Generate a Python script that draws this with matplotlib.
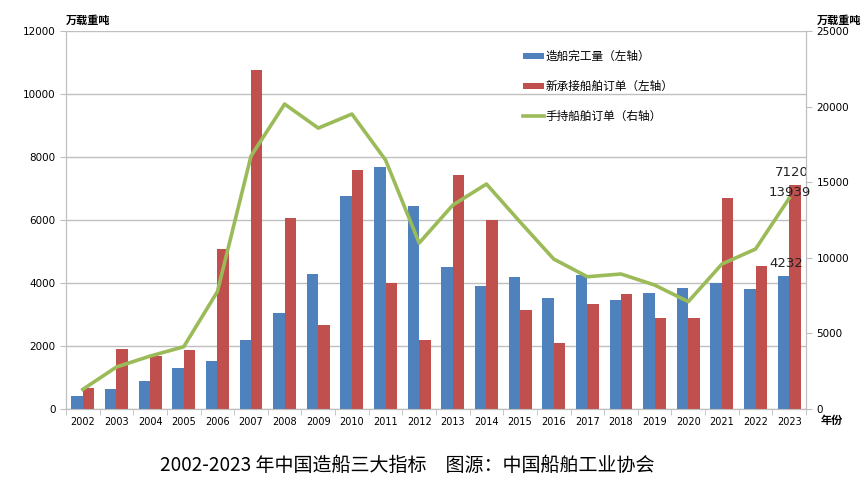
import matplotlib
matplotlib.use("Agg")
import matplotlib.pyplot as plt
import numpy as np

plt.rcParams['font.family'] = ['Noto Sans CJK SC', 'DejaVu Sans']

years = [str(y) for y in range(2002, 2024)]
completed = [420, 650, 880, 1310, 1510, 2180, 3050, 4300, 6760, 7680, 6440,
             4500, 3900, 4180, 3510, 4270, 3450, 3680, 3830, 3990, 3800, 4232]
new_orders = [680, 1900, 1680, 1870, 5080, 10750, 6060, 2660, 7590, 3990, 2180,
              7430, 6000, 3130, 2100, 3350, 3660, 2900, 2880, 6700, 4550, 7120]
holding = [1300, 2780, 3500, 4120, 7760, 16730, 20170, 18580, 19510, 16470, 10980,
           13490, 14880, 12370, 9920, 8750, 8930, 8200, 7100, 9590, 10580, 13939]

blue = '#4F81BD'
red = '#C0504D'
green = '#9BBB59'
grid_c = '#BFBFBF'

fig = plt.figure(figsize=(8.65, 4.94), dpi=100)
ax = fig.add_axes([0.0763, 0.172, 0.8555, 0.7652])
ax2 = ax.twinx()

x = np.arange(len(years))
w = 0.34
ax.bar(x - w / 2, completed, w, color=blue, label='造船完工量（左轴）', zorder=3)
ax.bar(x + w / 2, new_orders, w, color=red, label='新承接船舶订单（左轴）', zorder=3)
ln, = ax2.plot(x, holding, color=green, lw=2.6, label='手持船舶订单（右轴）', zorder=4)

ax.set_xlim(-0.5, len(years) - 0.5)
ax.set_ylim(0, 12000)
ax.set_yticks(np.arange(0, 12001, 2000))
ax2.set_ylim(0, 25000)
ax2.set_yticks(np.arange(0, 25001, 5000))

ax.yaxis.grid(True, color=grid_c, lw=1, zorder=0)
ax.set_axisbelow(True)

ax.set_xticks(x)
ax.set_xticklabels(years, fontsize=7, family='DejaVu Sans')
ax.set_xticks(np.arange(-0.5, len(years), 1), minor=True)
ax.tick_params(axis='x', which='major', length=0, pad=6)
ax.tick_params(axis='x', which='minor', length=4, color=grid_c)
ax.tick_params(axis='y', labelsize=7.5, length=4, color=grid_c)
ax2.tick_params(axis='y', labelsize=7.5, length=4, color=grid_c)
for lab in ax.get_yticklabels() + ax2.get_yticklabels():
    lab.set_family('DejaVu Sans')

for a in (ax, ax2):
    a.spines['top'].set_visible(False)
    for s in ('left', 'right', 'bottom'):
        a.spines[s].set_color(grid_c)

ax.text(0.0, 1.012, '万载重吨', transform=ax.transAxes, fontsize=8,
        fontweight='bold', ha='left', va='bottom')
ax2.text(1.015, 1.012, '万载重吨', transform=ax2.transAxes, fontsize=8,
         fontweight='bold', ha='left', va='bottom')
ax.text(1.02, -0.03, '年份', transform=ax.transAxes, fontsize=8,
        fontweight='bold', ha='left', va='center')

i = len(years) - 1
ax.annotate(f'{completed[i]}', (x[i] - w / 2, completed[i]), xytext=(2, 4),
            textcoords='offset points', ha='center', va='bottom', fontsize=9.5,
            family='DejaVu Sans', color='#222222', zorder=6)
ax.annotate(f'{new_orders[i]}', (x[i] + w / 2, new_orders[i]), xytext=(-2, 4),
            textcoords='offset points', ha='center', va='bottom', fontsize=9.5,
            family='DejaVu Sans', color='#222222', zorder=6)
ax2.annotate(f'{holding[i]}', (x[i], holding[i]), xytext=(0, 4),
             textcoords='offset points', ha='center', va='center', fontsize=9.5,
             family='DejaVu Sans', color='#222222', zorder=6)

h1, l1 = ax.get_legend_handles_labels()
leg = ax.legend(h1 + [ln], l1 + [ln.get_label()], loc='upper left',
                bbox_to_anchor=(0.603, 0.977), frameon=False, fontsize=8.4,
                labelspacing=1.45, handlelength=1.8, handleheight=0.5,
                handletextpad=0.15)
leg.set_zorder(10)

fig.text(160 / 865, 0.058, '2002-2023 年中国造船三大指标　图源：中国船舶工业协会',
         ha='left', va='center', fontsize=13.7)

fig.savefig('out.png', dpi=100)
